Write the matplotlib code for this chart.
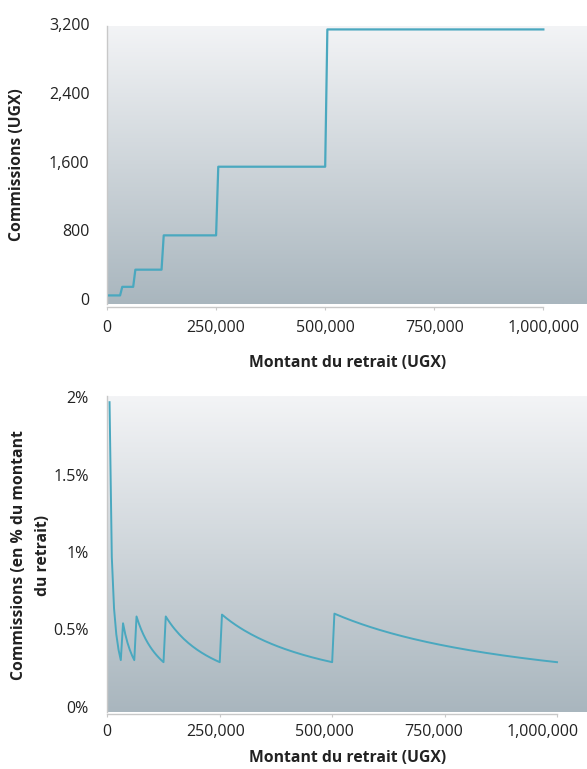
import numpy as np
import matplotlib
matplotlib.use("Agg")
import matplotlib.pyplot as plt
from matplotlib.colors import LinearSegmentedColormap
from matplotlib.ticker import FuncFormatter
import matplotlib.transforms as mtransforms

plt.rcParams['font.family'] = ['Open Sans', 'DejaVu Sans']

# ---- data ----
# fee schedule: upper bound of each withdrawal bracket (UGX) and its commission (UGX)
bracket_upper = [30000, 60000, 125000, 250000, 500000, 1000000]
bracket_fee = [100, 200, 400, 800, 1600, 3200]
# withdrawal amounts sampled along the x axis (UGX)
amount_start = 5000
amount_end = 1000000
amount_step = 5000

x_ticks = [0, 250000, 500000, 750000, 1000000]
y1_ticks = [0, 800, 1600, 2400, 3200]
y2_ticks = [0, 0.5, 1, 1.5, 2]
y2_labels = ["0%", "0.5%", "1%", "1.5%", "2%"]

x_label = "Montant du retrait (UGX)"
y1_label = "Commissions (UGX)"
y2_label = "Commissions (en % du montant\ndu retrait)"

# ---- derived series ----
amounts = np.arange(amount_start, amount_end + amount_step, amount_step)
idx = np.searchsorted(bracket_upper, amounts, side='left')
fees = np.array(bracket_fee)[idx]
pct = fees / amounts * 100.0

LINE = '#4aa8bf'
SPINE = '#c8c8c8'
TXT = '#222222'
TICK_FS = 11.5
LAB_FS = 11.3
cmap = LinearSegmentedColormap.from_list('bg', ['#f3f4f6', '#a9b6be'])

W, H = 587, 769
fig = plt.figure(figsize=(W / 100, H / 100), dpi=100)

def px(x, y):
    return x / W, 1 - y / H

def gradient(ax, xlim, ylim):
    grad = np.linspace(0, 1, 256).reshape(-1, 1)
    ax.imshow(grad, cmap=cmap, aspect='auto', origin='upper',
              extent=[xlim[0], xlim[1], ylim[0], ylim[1]], zorder=0, interpolation='bilinear')
    ax.set_xlim(*xlim)
    ax.set_ylim(*ylim)

def style(ax, xpad, ypad, x_shift=None):
    for s in ['top', 'right']:
        ax.spines[s].set_visible(False)
    for s in ['left', 'bottom']:
        ax.spines[s].set_color(SPINE)
        ax.spines[s].set_linewidth(1.0)
    ax.spines['bottom'].set_position(('outward', 2))
    ax.spines['bottom'].set_bounds(0, 1000000)
    ax.tick_params(axis='x', length=2, color=SPINE, labelsize=TICK_FS, labelcolor=TXT, pad=xpad)
    ax.tick_params(axis='y', length=0, labelsize=TICK_FS, labelcolor=TXT, pad=ypad)
    ax.set_xticks(x_ticks)
    ax.xaxis.set_major_formatter(FuncFormatter(lambda v, p: f"{int(v):,}"))
    off = mtransforms.ScaledTranslation(0, 5 / 100, fig.dpi_scale_trans)
    for lab in ax.get_yticklabels():
        lab.set_transform(lab.get_transform() + off)
    if x_shift is not None:
        for lab, dx in zip(ax.get_xticklabels(), x_shift):
            lab.set_transform(lab.get_transform() +
                              mtransforms.ScaledTranslation(dx / 100, 0, fig.dpi_scale_trans))

# top panel
ax1 = fig.add_axes([107 / W, 1 - 304 / H, 1 - 107 / W, (304 - 26) / H])
gradient(ax1, (0, 1100000), (0, 3240))
ax1.plot(amounts, fees, color=LINE, lw=1.6, zorder=3)
ax1.set_yticks(y1_ticks)
ax1.yaxis.set_major_formatter(FuncFormatter(lambda v, p: f"{int(v):,}"))
style(ax1, xpad=7.5, ypad=12.5)

# bottom panel
ax2 = fig.add_axes([107.3 / W, 1 - 711.7 / H, 1 - 107.3 / W, (711.7 - 396) / H])
gradient(ax2, (0, 1066700), (0, 2.04))
ax2.plot(amounts, pct, color=LINE, lw=1.4, zorder=3)
ax2.set_yticks(y2_ticks)
ax2.set_yticklabels(y2_labels)
style(ax2, xpad=5, ypad=13.5, x_shift=[0, -4, -7.5, -10.5, -14])

# axis titles
fig.text(*px(348, 363), x_label, fontsize=LAB_FS, fontweight='bold', color=TXT,
         ha='center', va='center')
fig.text(*px(348, 758), x_label, fontsize=LAB_FS, fontweight='bold', color=TXT,
         ha='center', va='center')
fig.text(*px(17, 165), y1_label, fontsize=LAB_FS, fontweight='bold', color=TXT,
         ha='center', va='center', rotation=90)
fig.text(*px(31, 555), y2_label, fontsize=LAB_FS, fontweight='bold', color=TXT,
         ha='center', va='center', rotation=90, linespacing=1.65, multialignment='center')

fig.savefig('out.png', dpi=100)
